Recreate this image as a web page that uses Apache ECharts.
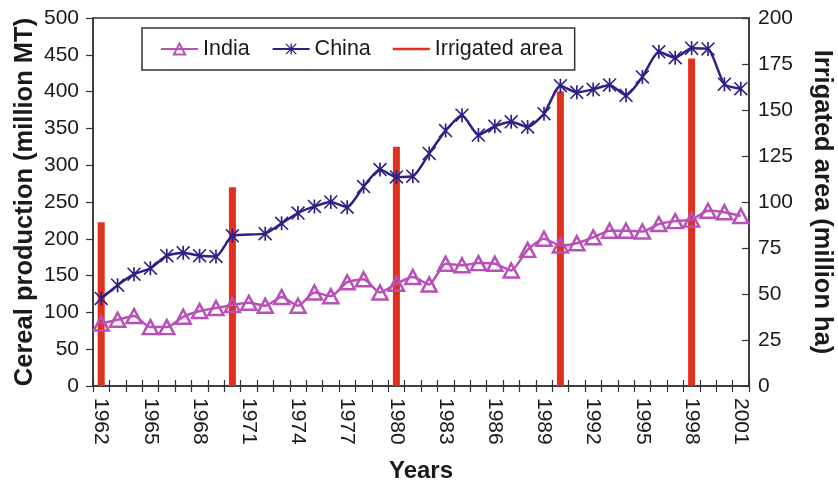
<!DOCTYPE html>
<html>
<head>
<meta charset="utf-8">
<title>Cereal production and irrigated area, India and China</title>
<script src="https://cdn.jsdelivr.net/npm/echarts@6/dist/echarts.min.js"></script>
<style>
  html, body { margin: 0; padding: 0; background: #fff; }
  #chart { width: 838px; height: 483px; }
</style>
</head>
<body>
<div id="chart"></div>
<script>
// Years on the category axis
const years = [];
for (let y = 1962; y <= 2001; y++) years.push(String(y));

// Cereal production (million MT)
const india = [85, 90, 95, 80, 80, 94, 102, 106, 110, 113,
               109, 121, 109, 127, 122, 141, 145, 127, 139, 148,
               138, 166, 164, 167, 166, 157, 185, 200, 191, 194,
               202, 211, 211, 210, 220, 224, 226, 238, 236, 231];
const china = [119, 137, 152, 160, 177, 181, 177, 176, 204, null,
               207, 221, 235, 244, 250, 243, 271, 294, 284, 285,
               316, 347, 368, 341, 353, 359, 352, 370, 408, 399,
               403, 409, 395, 420, 454, 446, 459, 458, 410, 404];

// Irrigated area (million ha), census years only
const irrigYears = ['1962', '1970', '1980', '1990', '1998'];
const irrigValues = [89, 108, 130, 160, 178];

const irrigated = years.map(y => {
  const i = irrigYears.indexOf(y);
  return i >= 0 ? irrigValues[i] : null;
});

const FONT = "'Liberation Sans', Arial, Helvetica, sans-serif";
const INK = '#1a1a1a';
const INDIA_COLOR = '#b94fb9';
const CHINA_COLOR = '#2e2186';
const BAR_COLOR = '#e0301e';

// Asterisk marker: vertical bar plus two diagonals
const ASTERISK = 'path://M44 0 L56 0 L56 100 L44 100 Z ' +
                 'M0 8 L8 0 L100 92 L92 100 Z ' +
                 'M92 0 L100 8 L8 100 L0 92 Z';

// Legend key for the bars: a thin horizontal stroke (tiny corner dots keep the box size)
const THIN_KEY = 'path://M0 0 L0.05 0 L0.05 0.05 L0 0.05 Z ' +
                 'M0 5.7 L37 5.7 L37 8.3 L0 8.3 Z ' +
                 'M36.95 13.95 L37 13.95 L37 14 L36.95 14 Z';

const chart = echarts.init(document.getElementById('chart'), null, { renderer: 'canvas' });

chart.setOption({
  animation: false,
  backgroundColor: '#fff',
  textStyle: { fontFamily: FONT, color: INK },
  grid: {
    left: 93, right: 89, top: 18, bottom: 97,
    outerBoundsMode: 'none',
    containLabel: false,
    show: true, borderColor: '#333', borderWidth: 1.5,
    backgroundColor: 'transparent'
  },
  legend: {
    data: ['India', 'China', { name: 'Irrigated area', icon: THIN_KEY }],
    left: 142, top: 28,
    padding: [10, 12, 10, 18],
    borderColor: '#333', borderWidth: 1.5,
    itemWidth: 37, itemHeight: 14, itemGap: 22, itemTextGap: 7,
    textStyle: { fontFamily: FONT, fontSize: 21.5, color: INK }
  },
  xAxis: [{
    type: 'category',
    data: years,
    boundaryGap: true,
    name: 'Years',
    nameLocation: 'middle',
    nameGap: 73,
    nameMoveOverlap: false,
    nameTextStyle: { fontFamily: FONT, fontSize: 24, fontWeight: 'bold', color: INK },
    axisLine: { lineStyle: { color: '#333', width: 1.5 } },
    axisTick: { show: true, interval: 0, length: 6, lineStyle: { color: '#333', width: 1.2 } },
    axisLabel: {
      interval: 2, rotate: -90, margin: 12,
      fontFamily: FONT, fontSize: 21, color: INK
    },
    splitLine: { show: false }
  }, {
    type: 'category',
    data: years,
    position: 'bottom',
    boundaryGap: true,
    axisLine: { show: false },
    axisTick: { show: true, inside: true, interval: 0, length: 6, lineStyle: { color: '#333', width: 1.2 } },
    axisLabel: { show: false },
    splitLine: { show: false }
  }],
  yAxis: [{
    type: 'value',
    min: 0, max: 500, interval: 50,
    position: 'left',
    name: 'Cereal production (million MT)',
    nameLocation: 'middle',
    nameGap: 55,
    nameMoveOverlap: false,
    nameTextStyle: { fontFamily: FONT, fontSize: 25.5, fontWeight: 'bold', color: INK },
    axisLine: { show: true, lineStyle: { color: '#333', width: 1.5 } },
    axisTick: { show: true, length: 7, lineStyle: { color: '#333', width: 1.2 } },
    axisLabel: { margin: 14, fontFamily: FONT, fontSize: 21, color: INK },
    splitLine: { show: false }
  }, {
    type: 'value',
    min: 0, max: 200, interval: 25,
    position: 'right',
    name: 'Irrigated area (million ha)',
    nameLocation: 'middle',
    nameGap: 60,
    nameRotate: -90,
    nameMoveOverlap: false,
    nameTextStyle: { fontFamily: FONT, fontSize: 25.5, fontWeight: 'bold', color: INK },
    axisLine: { show: true, lineStyle: { color: '#333', width: 1.5 } },
    axisTick: { show: true, inside: true, length: 7, lineStyle: { color: '#333', width: 1.2 } },
    axisLabel: { margin: 9, fontFamily: FONT, fontSize: 21, color: INK },
    splitLine: { show: false }
  }],
  series: [{
    name: 'India',
    type: 'line',
    data: india,
    smooth: 0.2,
    symbol: 'triangle',
    symbolSize: [15, 14],
    showAllSymbol: true,
    lineStyle: { color: INDIA_COLOR, width: 2.5 },
    itemStyle: { color: 'transparent', borderColor: INDIA_COLOR, borderWidth: 2.5 }
  }, {
    name: 'Irrigated area',
    type: 'bar',
    xAxisIndex: 0,
    yAxisIndex: 1,
    data: irrigated,
    barWidth: 7,
    itemStyle: { color: BAR_COLOR }
  }, {
    name: 'China',
    type: 'line',
    data: china,
    connectNulls: true,
    smooth: 0.2,
    symbol: ASTERISK,
    symbolSize: 14,
    showAllSymbol: true,
    lineStyle: { color: CHINA_COLOR, width: 2.5 },
    itemStyle: { color: CHINA_COLOR }
  }]
});
</script>
</body>
</html>
